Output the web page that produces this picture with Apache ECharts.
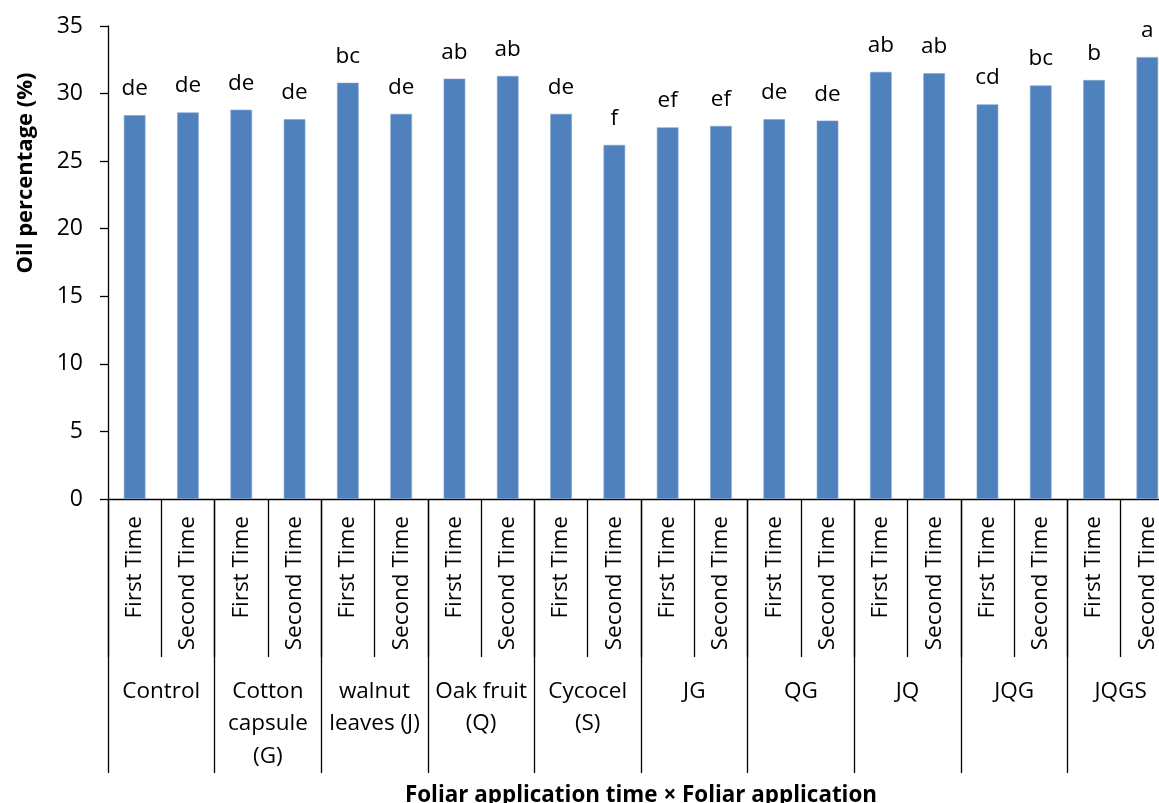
<!DOCTYPE html>
<html>
<head>
<meta charset="utf-8">
<style>
  html, body { margin: 0; padding: 0; background: #fff; }
  #chart { width: 1159px; height: 803px; }
</style>
<script src="https://cdn.jsdelivr.net/npm/echarts@6/dist/echarts.min.js"></script>
</head>
<body>
<div id="chart"></div>
<script>
// Treatment groups (outer axis level) and application times (inner level)
const groups = ['Control', 'Cotton\ncapsule\n(G)', 'walnut\nleaves (J)', 'Oak fruit\n(Q)', 'Cycocel\n(S)',
                'JG', 'QG', 'JQ', 'JQG', 'JQGS'];
const times = ['First Time', 'Second Time'];

// Oil percentage per treatment × time, in the order of the bars
const oilPercent = [28.4, 28.6, 28.8, 28.1, 30.8, 28.5, 31.1, 31.3, 28.5, 26.2,
                    27.5, 27.6, 28.1, 28.0, 31.6, 31.5, 29.2, 30.6, 31.0, 32.7];

// Mean-separation letters shown above the bars
const letters = ['de', 'de', 'de', 'de', 'bc', 'de', 'ab', 'ab', 'de', 'f',
                 'ef', 'ef', 'de', 'de', 'ab', 'ab', 'cd', 'bc', 'b', 'a'];

const yTicks = { min: 0, max: 35, interval: 5 };

const barCategories = [];
groups.forEach(() => times.forEach(t => barCategories.push(t)));

const FONT = 'Open Sans';
const ink = '#000';

const chart = echarts.init(document.getElementById('chart'), null, { renderer: 'canvas' });

chart.setOption({
  backgroundColor: '#fff',
  animation: false,
  grid: { left: 108, right: -15, top: 26, bottom: 304, containLabel: false, outerBoundsMode: 'none' },
  // Value-axis title, set in the upper part of the axis
  graphic: [{
    type: 'text',
    x: 26, y: 173,
    rotation: Math.PI / 2,
    style: {
      text: 'Oil percentage (%)',
      fill: ink,
      font: 'bold 22px "Open Sans"',
      align: 'center',
      verticalAlign: 'middle'
    }
  }],
  xAxis: [
    {
      type: 'category',
      data: barCategories,
      position: 'bottom',
      axisLine: { onZero: false, lineStyle: { color: ink, width: 1.3 } },
      axisTick: { show: true, interval: 0, alignWithLabel: false, length: 158, lineStyle: { color: ink, width: 1.3 } },
      axisLabel: {
        interval: 0, rotate: 90, margin: 17,
        color: ink, fontFamily: FONT, fontSize: 22.5
      }
    },
    {
      type: 'category',
      data: groups,
      position: 'bottom',
      axisLine: { show: false, onZero: false },
      axisTick: { show: true, interval: 0, length: 274, lineStyle: { color: ink, width: 1.3 } },
      axisLabel: {
        interval: 0, margin: 176,
        color: ink, fontFamily: FONT, fontSize: 22.5, lineHeight: 32.5,
        verticalAlign: 'top'
      },
      name: 'Foliar application time × Foliar application',
      nameLocation: 'middle',
      nameGap: 286,
      nameTextStyle: { color: ink, fontFamily: FONT, fontWeight: 'bold', fontSize: 22.4 }
    }
  ],
  yAxis: {
    type: 'value',
    min: yTicks.min, max: yTicks.max, interval: yTicks.interval,
    axisLine: { show: true, lineStyle: { color: ink, width: 1.3 } },
    axisTick: { show: true, length: 8, lineStyle: { color: ink, width: 1.3 } },
    splitLine: { show: false },
    axisLabel: { color: ink, fontFamily: FONT, fontSize: 23, margin: 25 }
  },
  series: [{
    type: 'bar',
    xAxisIndex: 0,
    data: oilPercent,
    barWidth: '40.5%',
    itemStyle: { color: '#4F81BD', borderColor: '#7FA3D0', borderWidth: 0.6 },
    label: {
      show: true,
      position: 'top',
      distance: 15,
      color: ink, fontFamily: FONT, fontSize: 22.5,
      formatter: p => letters[p.dataIndex]
    }
  }]
});
</script>
</body>
</html>
